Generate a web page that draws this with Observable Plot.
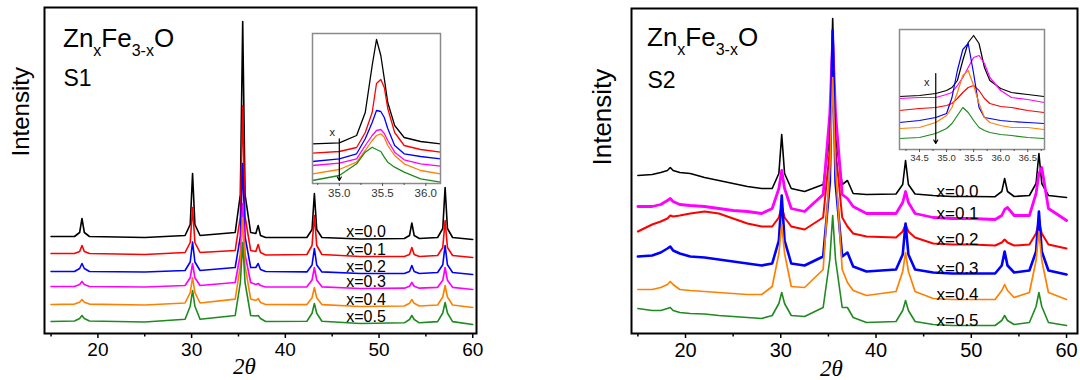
<!DOCTYPE html>
<html><head><meta charset="utf-8">
<script src="https://cdn.jsdelivr.net/npm/d3@7"></script>
<script src="https://cdn.jsdelivr.net/npm/@observablehq/plot@0.6"></script>
<style>
body{margin:0;background:#fff;}
#wrap{position:relative;width:1080px;height:380px;overflow:hidden;background:#fff;}
.pane{position:absolute;}
.pane svg{overflow:visible;}
</style></head><body>
<div id="wrap">
  <div id="p1" class="pane" style="left:0;top:0;width:540px;height:380px"></div>
  <div id="p2" class="pane" style="left:540px;top:0;width:540px;height:380px"></div>
  <div id="i1" class="pane" style="left:300px;top:25px;width:150px;height:180px"></div>
  <div id="i2" class="pane" style="left:887px;top:21px;width:167px;height:146px"></div>
</div>
<script>
// ---------- data ----------
const compositions = ["x=0.0", "x=0.1", "x=0.2", "x=0.3", "x=0.4", "x=0.5"];
const majorTicks = [20, 30, 40, 50, 60];
const minorTicks = [15, 25, 35, 45, 55];

// S1 main pattern (2θ, relative intensity)
const s1TwoTheta = [15, 17.5, 18.05, 18.3, 18.55, 19.1, 25, 29.3, 29.85, 30.1, 30.35, 30.9, 34.65, 35.2, 35.45, 35.7, 36.3, 36.85, 37.1, 37.35, 37.9, 42.3, 42.85, 43.1, 43.35, 43.9, 48, 52.7, 53.25, 53.5, 53.75, 54.3, 56.25, 56.8, 57.05, 57.3, 57.85, 60];
const s1x00 = [97, 97, 101, 115, 101, 97, 96, 98, 109, 160, 109, 98, 101, 139, 312, 139, 101, 100, 108, 98, 96, 96, 104, 140, 104, 96, 94.5, 95, 98, 110.5, 98, 95, 96, 105, 146, 105, 96, 94];
const s1x01 = [80, 80, 82, 88, 82, 80, 79, 81, 91, 126, 91, 81, 83, 117, 228, 117, 83, 82, 89, 81, 78.5, 79, 88, 118, 88, 79, 77, 77, 79, 86, 79, 77, 78, 86, 113, 86, 78, 76];
const s1x02 = [62, 62, 65, 70, 65, 62, 61.5, 63, 71.5, 91.5, 71.5, 63, 66, 97, 170, 97, 66, 66, 70, 64, 62, 61.6, 68.5, 85, 68.5, 61.6, 60, 60, 62, 68, 62, 60, 61, 68.7, 88, 68.7, 61, 59];
const s1x03 = [47, 47, 49, 52, 49, 47, 46.5, 48, 55.7, 70, 55.7, 48, 51, 79, 130, 79, 51, 49, 50, 48, 46.5, 46.7, 53.5, 66, 53.5, 46.7, 45, 45.3, 47.3, 51, 47.3, 45.3, 46.2, 53.2, 66, 53.2, 46.2, 44];
const s1x04 = [29, 29.4, 31.3, 34, 31.3, 29.4, 28.5, 30.5, 40.9, 56, 40.9, 30.5, 34.4, 67.6, 116, 67.6, 34.5, 33, 35, 31, 29, 28.9, 35.8, 46, 35.8, 28.9, 27, 27.5, 30.2, 34, 30.2, 27.5, 28.5, 36.5, 48, 36.5, 28.5, 26];
const s1x05 = [12, 12.5, 15, 18, 15, 12.5, 11.5, 14.3, 27.3, 43, 27.3, 14.3, 18, 51, 91, 51, 18, 17.5, 18, 15, 12, 12.2, 20.3, 30, 20.3, 12.2, 10, 10.7, 14, 18, 14, 10.7, 11.9, 20.5, 31, 20.5, 11.9, 9];

// S1 inset (zoom of the (311) peak)
const s1InsetTwoTheta = [34.69, 35.0, 35.2, 35.3, 35.38, 35.43, 35.48, 35.52, 35.56, 35.64, 35.75, 35.94, 36.17];
const s1In00 = [39.7, 40.7, 48, 71, 118, 144, 128, 105, 81, 58, 46, 42, 39.7];
const s1In01 = [30.3, 32, 36, 51, 71, 100, 104, 96, 75, 51, 38, 34, 31.3];
const s1In02 = [22, 24.7, 29.7, 44.7, 61, 73, 72, 66, 55, 38, 29.7, 27, 24.7];
const s1In03 = [18, 20.3, 24.7, 38, 48, 53, 54, 50, 43, 31.3, 23.7, 19.7, 17.3];
const s1In04 = [9.7, 14, 21.3, 33, 43, 48, 49.7, 46.3, 38, 28, 19.7, 13, 9.7];
const s1In05 = [3, 8, 19.7, 31.3, 36.3, 34, 32, 26.3, 21.3, 16.3, 11.3, 4.7, 1.3];

// S2 main pattern
const s2TwoTheta = [15, 16.5, 17.4, 18.1, 18.4, 18.7, 19.4, 20.5, 22, 23.5, 25, 26.5, 28, 29.1, 29.8, 30.1, 30.4, 31.1, 32.5, 34.45, 35.15, 35.45, 35.75, 36.45, 37.0, 37.6, 39, 42.1, 42.8, 43.1, 43.4, 44.1, 46, 48, 50, 52.5, 53.2, 53.5, 53.8, 54.5, 56.1, 56.8, 57.1, 57.4, 58.1, 60];
const s2x00 = [158, 159, 161, 163, 166, 163, 161, 160, 156, 153, 150, 147, 145, 145, 160, 199, 160, 145, 142, 149, 196, 315, 196, 149, 153, 140, 139, 139.5, 149, 173, 149, 139.5, 138, 137, 137, 136.8, 142, 155, 142, 137, 138, 150, 180, 150, 138, 136];
const s2x01 = [127, 127, 129, 133, 135, 132, 129, 128, 127, 125, 123, 122, 120, 125, 145, 163, 145, 125, 122, 139, 220, 293, 220, 139, 135, 127, 120, 120, 131, 142, 131, 120, 116, 115, 115, 114, 118, 124, 126, 118, 118, 140, 160, 166, 125, 113];
const s2x02 = [102, 109, 112, 115, 118, 117, 118, 120, 122, 120, 115, 110, 107, 107, 116, 127, 116, 107, 104, 116, 184, 265, 184, 116, 107, 100, 97, 96, 102, 109, 102, 96, 90, 89, 89, 88, 91, 94, 91, 88, 89, 100, 112, 100, 89, 85];
const s2x03 = [77, 78, 81, 85, 87, 83, 80, 77, 76, 74, 72, 70, 68, 70, 93, 138, 93, 70, 68, 77, 151, 303, 151, 77, 81, 67, 62, 64, 79, 110, 79, 64, 61, 60, 60, 60, 68, 82, 68, 61, 63, 82, 122, 82, 63, 59];
const s2x04 = [44, 44, 46, 49, 52, 49, 44, 43, 42, 41, 40, 39, 39, 47, 80, 109, 80, 47, 46, 64, 165, 256, 165, 64, 51, 43, 38, 42, 62, 81, 62, 42, 35, 34, 34, 34, 43, 49, 43, 36, 41, 73, 102, 73, 41, 34];
const s2x05 = [25, 23, 23, 25, 26, 23, 21, 20, 19.5, 18, 17, 16, 15, 18, 30, 41, 30, 18, 17, 26, 74, 118, 74, 26, 26, 16, 11, 12, 23, 33, 23, 12, 9, 8, 8, 8, 13, 18, 13, 9, 11, 27, 41, 27, 11, 8];

// S2 inset
const s2InsetTwoTheta = [34.13, 34.5, 34.8, 35.0, 35.1, 35.2, 35.3, 35.4, 35.5, 35.6, 35.7, 35.8, 36.0, 36.2, 36.5, 36.8];
const s2In00 = [53, 54, 56, 59, 62, 69, 89, 107, 114, 106, 82, 69, 61, 57, 55, 53];
const s2In01 = [51, 52, 52, 55, 57, 64, 72, 82, 92, 94, 86, 72, 59, 52, 50, 47];
const s2In02 = [39, 41, 42, 44, 46, 51, 57, 62, 64, 59, 51, 46, 43, 42, 39, 37];
const s2In03 = [27, 29, 32, 36, 52, 79, 100, 106, 76, 42, 32, 31, 29, 28, 27, 26];
const s2In04 = [21, 22, 27, 34, 42, 57, 74, 79, 64, 46, 32, 27, 24, 22, 22, 20];
const s2In05 = [11, 12, 16, 21, 26, 34, 42, 37, 29, 22, 19, 17, 15, 14, 12, 11];

const s1InsetTicks = [35.0, 35.5, 36.0];
const s2InsetTicks = [34.5, 35.0, 35.5, 36.0, 36.5];

// ---------- styling (code, not data) ----------
const SANS = "Liberation Sans, Arial, Helvetica, sans-serif";
const s1Colors = ["#000000", "#ff0000", "#0000ff", "#ff00ff", "#ff8000", "#1f8a1f"];
const s2Colors = ["#000000", "#ff00ff", "#ff0000", "#0000ff", "#ff8000", "#1f8a1f"];
const s1Widths = [1.6, 1.6, 1.6, 1.7, 1.6, 1.6];
const s2Widths = [1.6, 2.8, 2.0, 2.6, 1.7, 1.6];

function rows(xs, ys) { return xs.map((x, i) => ({x, y: ys[i]})); }

function lineMarks(xs, seriesList, colors, widths) {
  return seriesList.map((ys, k) => Plot.line(rows(xs, ys), {
    x: "x", y: "y", stroke: colors[k], strokeWidth: widths[k],
    strokeLinejoin: "round", curve: "linear"
  }));
}

function addFormula(svg, x, y) {
  const t = d3.select(svg).append("text")
    .attr("x", x).attr("y", y).attr("text-anchor", "start")
    .attr("font-family", SANS).attr("font-size", 26).attr("fill", "black");
  const parts = [["Zn", 0], ["x", 1], ["Fe", 0], ["3-x", 1], ["O", 0]];
  let prev = 0;
  for (const [s, sub] of parts) {
    t.append("tspan").attr("font-size", sub ? 16 : 26).attr("dy", (sub - prev) * 9).text(s);
    prev = sub;
  }
}

function mainPanel(cfg) {
  const labelIdx = cfg.xs.indexOf(48);
  const labelData = compositions.map((c, k) => ({label: c, y: cfg.series[k][labelIdx]}));
  const svg = Plot.plot({
    width: 540, height: 380,
    marginLeft: cfg.ml, marginRight: cfg.mr, marginTop: cfg.mt, marginBottom: cfg.mb,
    x: {domain: cfg.xDomain, label: null},
    y: {domain: cfg.yDomain, axis: null, label: null},
    style: {fontFamily: SANS, color: "black", background: "transparent", overflow: "visible"},
    marks: [
      ...lineMarks(cfg.xs, cfg.series, cfg.colors, cfg.widths),
      Plot.text(labelData, {x: cfg.labelX, y: "y", text: "label", textAnchor: "start",
        dy: cfg.labelDy, fontSize: cfg.labelSize, fill: "black"}),
      Plot.frame({stroke: "black", strokeWidth: 2}),
      Plot.axisX({ticks: majorTicks, tickSize: 5, tickPadding: 4, fontSize: cfg.tickFont,
        strokeWidth: 1.5, label: null, tickFormat: d => String(d)}),
      Plot.axisX({ticks: minorTicks, tickSize: 3.5, strokeWidth: 1.5, label: null, tickFormat: () => ""}),
      Plot.text(["Intensity"], {text: d => d, frameAnchor: "left", rotate: -90,
        dx: cfg.yLabelDx, dy: cfg.yLabelDy, fontSize: cfg.yLabelSize, fill: "black"}),
      Plot.text(["2θ"], {text: d => d, frameAnchor: "bottom", lineAnchor: "bottom",
        dx: cfg.xLabelDx, dy: cfg.xLabelDy, fontSize: 23, fontStyle: "italic",
        fontFamily: "Liberation Serif, Times New Roman, serif", fill: "black"}),
      Plot.text([cfg.sample], {text: d => d, frameAnchor: "top-left", textAnchor: "start",
        lineAnchor: "bottom", dx: cfg.titleDx, dy: cfg.sampleDy, fontSize: 23, fill: "black"})
    ]
  });
  addFormula(svg, cfg.ml + cfg.titleDx, cfg.formulaY);
  return svg;
}

function insetPanel(cfg) {
  const ix = cfg.arrowIdx;
  const arrow = [{x: cfg.xs[ix], top: cfg.series[0][ix] + cfg.arrowTopPad, bottom: cfg.series[5][ix] - cfg.arrowBottomPad}];
  const step = (cfg.ticks[1] - cfg.ticks[0]) / 2;
  const minor = cfg.ticks.map(t => t - step).concat([cfg.ticks[cfg.ticks.length - 1] + step])
    .filter(t => t > cfg.xDomain[0] && t < cfg.xDomain[1]);
  return Plot.plot({
    width: cfg.width, height: cfg.height,
    marginLeft: 12, marginRight: 10, marginTop: 8, marginBottom: cfg.height - 8 - cfg.frameH,
    x: {domain: cfg.xDomain, label: null},
    y: {domain: [0, cfg.frameH], axis: null, label: null},
    style: {fontFamily: SANS, color: "black", background: "transparent", overflow: "visible"},
    marks: [
      Plot.frame({fill: "white", stroke: "none"}),
      ...lineMarks(cfg.xs, cfg.series, cfg.colors, cfg.series.map(() => cfg.lineWidth)),
      Plot.arrow(arrow, {x1: "x", x2: "x", y1: "top", y2: "bottom", stroke: "black",
        strokeWidth: 1.2, headLength: 5}),
      Plot.text(arrow, {x: "x", y: "top", text: () => "x", dx: cfg.xTextDx, dy: cfg.xTextDy,
        fontSize: 11, fill: "#222"}),
      Plot.frame({stroke: "#8a8a8a", strokeWidth: 1.5}),
      Plot.axisX({ticks: cfg.ticks, tickSize: 3, tickPadding: cfg.tickPad, fontSize: cfg.tickFont,
        stroke: "#555", fill: "#333", label: null, tickFormat: d3.format(".1f")}),
      Plot.axisX({ticks: minor, tickSize: 2, stroke: "#555", label: null, tickFormat: () => ""})
    ]
  });
}

document.getElementById("p1").append(mainPanel({
  xs: s1TwoTheta, series: [s1x00, s1x01, s1x02, s1x03, s1x04, s1x05],
  colors: s1Colors, widths: s1Widths,
  ml: 44, mr: 64, mt: 7, mb: 47, xDomain: [14.3, 60.4], yDomain: [0, 326],
  labelX: 46.5, labelDy: -7, labelSize: 16, tickFont: 19,
  yLabelDx: -23.3, yLabelDy: -14, yLabelSize: 24,
  xLabelDx: -16, xLabelDy: 40,
  sample: "S1", titleDx: 19, sampleDy: 78, formulaY: 47
}));

document.getElementById("p2").append(mainPanel({
  xs: s2TwoTheta, series: [s2x00, s2x01, s2x02, s2x03, s2x04, s2x05],
  colors: s2Colors, widths: s2Widths,
  ml: 91, mr: 3, mt: 8, mb: 47, xDomain: [14.33, 61.15], yDomain: [0, 325],
  labelX: 46.35, labelDy: -5, labelSize: 17, tickFont: 20,
  yLabelDx: -29, yLabelDy: -5.5, yLabelSize: 26,
  xLabelDx: -23, xLabelDy: 42,
  sample: "S2", titleDx: 16, sampleDy: 79, formulaY: 46
}));

document.getElementById("i1").append(insetPanel({
  xs: s1InsetTwoTheta, series: [s1In00, s1In01, s1In02, s1In03, s1In04, s1In05],
  colors: s1Colors, lineWidth: 1.3, width: 150, height: 180, frameH: 150,
  xDomain: [34.69, 36.17], ticks: s1InsetTicks, tickFont: 11.5, tickPad: 2,
  arrowIdx: 1, arrowTopPad: 4, arrowBottomPad: 5, xTextDx: -7, xTextDy: -6
}));

document.getElementById("i2").append(insetPanel({
  xs: s2InsetTwoTheta, series: [s2In00, s2In01, s2In02, s2In03, s2In04, s2In05],
  colors: s2Colors, lineWidth: 1.2, width: 167, height: 146, frameH: 120,
  xDomain: [34.13, 36.81], ticks: s2InsetTicks, tickFont: 9.5, tickPad: 1.5,
  arrowIdx: 2, arrowTopPad: 20, arrowBottomPad: 10, xTextDx: -9, xTextDy: 9
}));
</script>
</body></html>
